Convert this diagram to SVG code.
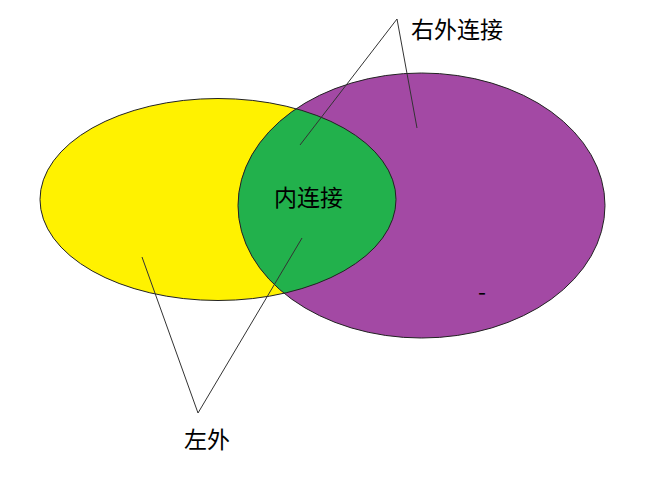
<svg xmlns="http://www.w3.org/2000/svg" width="661" height="481" viewBox="0 0 661 481">
<style>
.outline{stroke:#222;stroke-width:1;fill:none}
.lead{stroke:#333;stroke-width:1;fill:none}
.lbl{font-family:"Noto Sans CJK SC","Microsoft YaHei",sans-serif;font-size:23px;fill:#000}
</style>
<defs>
<ellipse id="ey" cx="218" cy="199.5" rx="178" ry="101"/>
<ellipse id="ep" cx="421.5" cy="205.5" rx="183.5" ry="132.5"/>
<clipPath id="clipY"><use href="#ey"/></clipPath>
</defs>
<rect width="661" height="481" fill="#fff"/>
<g id="left-set">
<use href="#ey" fill="#FFF200"/>
</g>
<g id="right-set">
<use href="#ep" fill="#A349A4"/>
</g>
<g id="inner-join">
<use href="#ep" fill="#22B14C" clip-path="url(#clipY)"/>
<use href="#ey" class="outline"/>
<use href="#ep" class="outline"/>
<text class="lbl" x="274" y="206">内连接</text>
</g>
<g id="stray">
<text class="lbl" x="478" y="300">-</text>
</g>
<g id="connectors">
<polyline class="lead" points="300,145 397,19 417,128"/>
<polyline class="lead" points="142,257 198,413 302,238"/>
</g>
<g id="right-outer-label">
<text class="lbl" x="411" y="38">右外连接</text>
</g>
<g id="left-outer-label">
<text class="lbl" x="184" y="448">左外</text>
</g>
</svg>
